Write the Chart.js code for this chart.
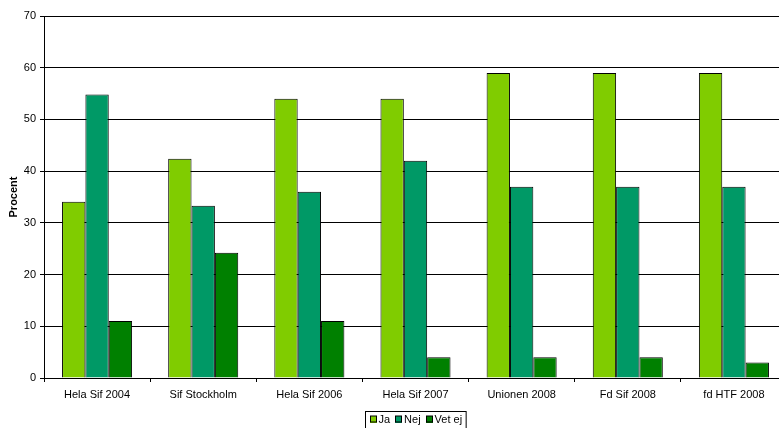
<!DOCTYPE html>
<html>
<head>
<meta charset="utf-8">
<script src="https://cdn.jsdelivr.net/npm/chart.js@4/dist/chart.umd.min.js"></script>
<style>
  html, body { margin: 0; padding: 0; background: #fff; overflow: hidden; }
  #wrap { position: relative; width: 787px; height: 428px; }
</style>
</head>
<body>
<div id="wrap"><canvas id="c" width="787" height="428"></canvas></div>
<script>
const categories = ["Hela Sif 2004", "Sif Stockholm", "Hela Sif 2006", "Hela Sif 2007", "Unionen 2008", "Fd Sif 2008", "fd HTF 2008"];
const seriesNames = ["Ja", "Nej", "Vet ej"];
const jaValues = [34.1, 42.4, 54, 54, 59, 59, 59];
const nejValues = [54.8, 33.3, 36, 42, 37, 37, 37];
const vetEjValues = [11, 24.2, 11, 4, 4, 4, 3];
const yTicks = [0, 10, 20, 30, 40, 50, 60, 70];
const yTitle = "Procent";

const colors = ["#80CC00", "#009966", "#008000"];
const font = "Liberation Sans, Arial, sans-serif";

const boxLegend = {
  id: "boxLegend",
  afterDraw(chart) {
    const ctx = chart.ctx;
    const ca = chart.chartArea;
    ctx.save();
    ctx.font = "11px " + font;
    const mk = 7, gapTxt = 2, gapItem = 5, pad = 4;
    const items = chart.data.datasets.map(d => ({ label: d.label, color: d.backgroundColor, w: ctx.measureText(d.label).width }));
    let total = pad * 2;
    items.forEach((it, i) => { total += mk + gapTxt + it.w + (i ? gapItem : 0); });
    const cx = (ca.left + ca.right) / 2;
    const left = Math.round(cx - total / 2) + 0.5;
    const top = ca.bottom + 33.5;
    ctx.strokeStyle = "#000";
    ctx.lineWidth = 1;
    ctx.strokeRect(left, top, total, 18);
    let x = left + pad;
    ctx.textBaseline = "middle";
    ctx.textAlign = "left";
    items.forEach((it, i) => {
      if (i) x += gapItem;
      ctx.fillStyle = it.color;
      ctx.fillRect(Math.round(x), top + 4.5, mk, mk);
      ctx.strokeRect(Math.round(x) + 0.5, top + 4.5, mk - 1, mk - 1);
      x += mk + gapTxt;
      ctx.fillStyle = "#000";
      ctx.fillText(it.label, x, top + 8.5);
      x += it.w;
    });
    ctx.restore();
  }
};

new Chart(document.getElementById("c"), {
  type: "bar",
  data: {
    labels: categories,
    datasets: [
      { label: seriesNames[0], data: jaValues, backgroundColor: colors[0] },
      { label: seriesNames[1], data: nejValues, backgroundColor: colors[1] },
      { label: seriesNames[2], data: vetEjValues, backgroundColor: colors[2] }
    ]
  },
  options: {
    responsive: false,
    animation: false,
    layout: { padding: { top: 16, left: 0, right: 0, bottom: 0 } },
    datasets: {
      bar: { borderColor: "#000", borderWidth: 1, barPercentage: 1, categoryPercentage: 0.66 }
    },
    plugins: {
      legend: { display: false },
      tooltip: { enabled: false }
    },
    scales: {
      x: {
        grid: { display: true, drawOnChartArea: false, drawTicks: true, tickLength: 4, color: "#000", offset: true },
        border: { display: true, color: "#000", width: 1 },
        ticks: { color: "#000", font: { family: font, size: 11 }, padding: 6, maxRotation: 0, autoSkip: false },
        afterFit(s) { s.height = 50; }
      },
      y: {
        min: 0,
        max: 70,
        afterBuildTicks(s) { s.ticks = yTicks.map(v => ({ value: v })); },
        grid: { color: "#000", lineWidth: 1, tickLength: 4, drawTicks: true },
        border: { display: true, color: "#000", width: 1 },
        ticks: { color: "#000", font: { family: font, size: 11 }, padding: 4 },
        title: { display: true, text: yTitle, color: "#000", font: { family: font, size: 11, weight: "bold" }, padding: { top: 7, bottom: 0 } },
        afterFit(s) { s.width = 44; }
      }
    }
  },
  plugins: [boxLegend]
});
</script>
</body>
</html>
